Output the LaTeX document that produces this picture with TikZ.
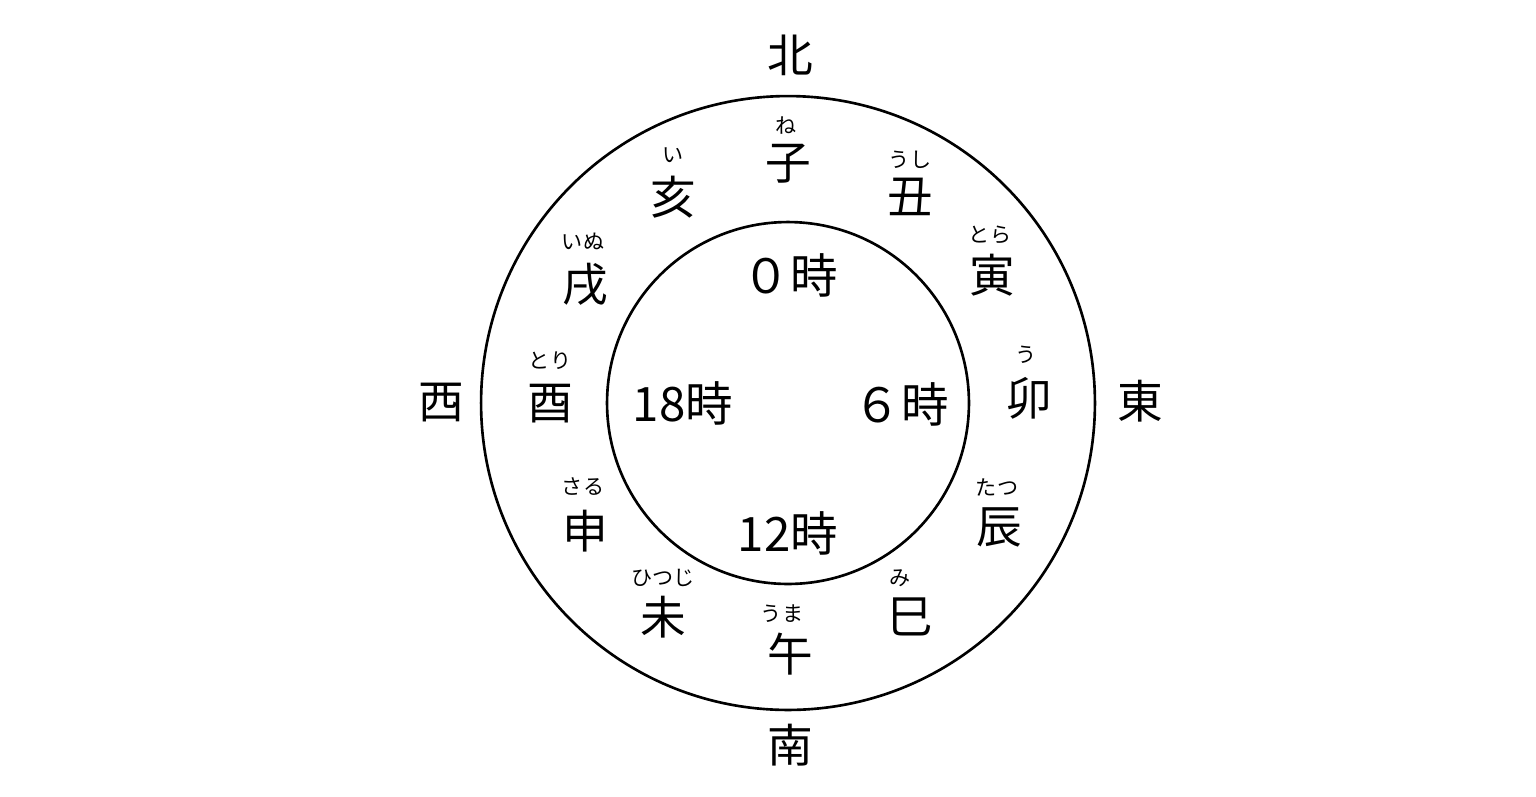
\documentclass[tikz,border=0pt]{standalone}
\usepackage{fontspec}
\usepackage{tikz}
\usetikzlibrary{positioning}
\newfontfamily\jpfont{Noto Sans CJK JP}

\begin{document}
\begin{tikzpicture}[
    x=0.02cm, y=-0.02cm,
    ring/.style={draw, line width=1.5pt},
    dir/.style={font=\jpfont\fontsize{26}{26}\selectfont, inner sep=0pt},
    eto/.style={font=\jpfont\fontsize{26}{26}\selectfont, inner sep=0pt},
    yomi/.style={font=\jpfont\fontsize{12}{12}\selectfont, inner sep=0pt},
    jikoku/.style={font=\jpfont\fontsize{27}{27}\selectfont, inner sep=0pt},
]
\useasboundingbox (0,0) rectangle (1536,796);
% ---- 円 ----
\coordinate (O) at (788, 403);
\draw[ring] (O) circle[radius=6.14cm];
\draw[ring] (O) circle[radius=3.62cm];
% ---- 方角 ----
\node[dir] (kita)    at (790, 55)  {北};
\node[dir] (minami)  at (790, 745) {南};
\node[dir] (nishi)   at (441, 403) {西};
\node[dir] (higashi) at (1140, 401) {東};
% ---- 十二支 ----
\node[eto] (ne)    at (788, 164) {子};
\node[eto] (ushi)  at (910, 197) {丑};
\node[eto] (tora)  at (992, 275) {寅};
\node[eto] (u)     at (1029, 398) {卯};
\node[eto] (tatsu) at (999, 527) {辰};
\node[eto] (mi)    at (910, 617) {巳};
\node[eto] (uma)   at (790, 654) {午};
\node[eto] (hitsuji) at (663, 617) {未};
\node[eto] (saru)  at (585, 531) {申};
\node[eto] (tori)  at (550, 404) {酉};
\node[eto] (inu)   at (585, 285) {戌};
\node[eto] (i)     at (673, 197) {亥};
% ---- 読み ----
\node[yomi] (ne-y)    at (786, 126) {ね};
\node[yomi] (ushi-y)  at (910, 160) {うし};
\node[yomi] (tora-y)  at (990, 235) {とら};
\node[yomi] (u-y)     at (1026, 355) {う};
\node[yomi] (tatsu-y) at (997, 487) {たつ};
\node[yomi] (mi-y)    at (900, 578) {み};
\node[yomi] (uma-y)   at (782, 614) {うま};
\node[yomi] (hitsuji-y) at (663, 578) {ひつじ};
\node[yomi] (saru-y)  at (583, 487) {さる};
\node[yomi] (tori-y)  at (550, 361) {とり};
\node[yomi] (inu-y)   at (583, 241) {いぬ};
\node[yomi] (i-y)     at (673, 155) {い};
% ---- 時刻 ----
\node[jikoku] (h0)  at (790, 275) {０時};
\node[jikoku] (h6)  at (901, 404) {６時};
\node[jikoku] (h12) at (788, 533) {12時};
\node[jikoku] (h18) at (683, 403) {18時};
\end{tikzpicture}
\end{document}
